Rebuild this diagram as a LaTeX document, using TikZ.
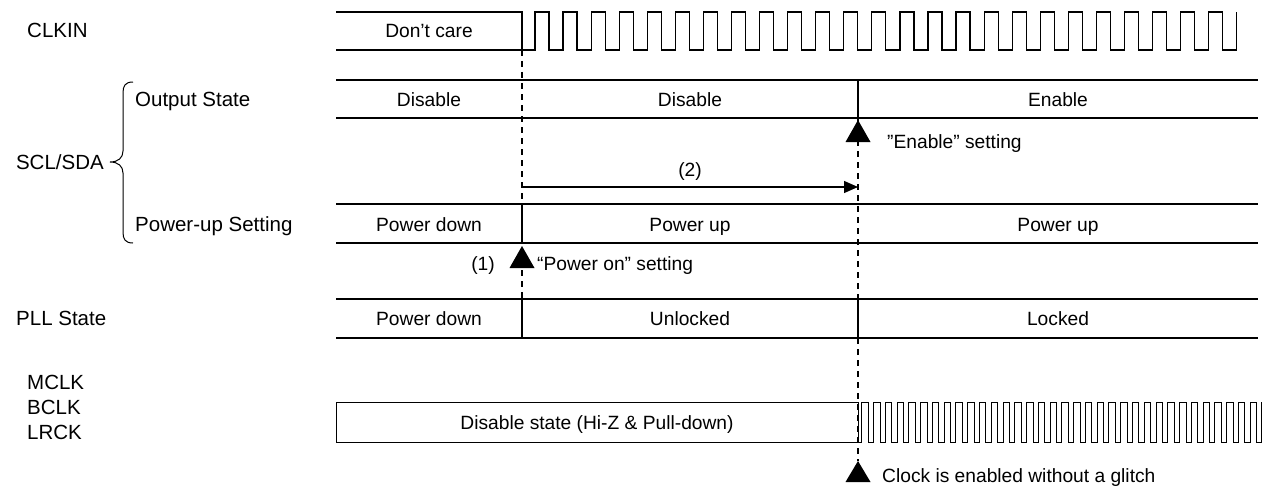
\documentclass[tikz,border=0pt]{standalone}
\usepackage{fontspec}
\setmainfont{Liberation Sans}
\usetikzlibrary{arrows.meta}
\begin{document}
\begin{tikzpicture}[x=1pt,y=-1pt,
  sig/.style={line width=1.2pt, line join=miter},
  fastclk/.style={line width=0.9pt, line join=miter},
  guide/.style={line width=1.1pt, dash pattern=on 6pt off 5pt},
  lbl/.style={font=\fontsize{20.5}{24}\selectfont, inner sep=0pt},
  txt/.style={font=\fontsize{19.2}{23}\selectfont, inner sep=0pt, anchor=base},
  flag/.style={fill=black}
]
\useasboundingbox (0,0) rectangle (1274,487);

% ---- signal names on the left (positions are baselines)
\node[lbl, anchor=base west] (nclkin) at (27,38) {CLKIN};
\node[lbl, anchor=base west] (nout) at (135,106) {Output State};
\node[lbl, anchor=base east] (nscl) at (104,169) {SCL/SDA};
\node[lbl, anchor=base west] (npwr) at (135,231) {Power-up Setting};
\node[lbl, anchor=base west] (npll) at (16,325) {PLL State};
\node[lbl, anchor=base west] (nmclk) at (27,389) {MCLK};
\node[lbl, anchor=base west] (nbclk) at (27,414) {BCLK};
\node[lbl, anchor=base west] (nlrck) at (27,439) {LRCK};

% brace grouping the two SCL/SDA rows
\draw[line width=1pt] (133,82) .. controls (125,82) and (123,86) .. (123,93)
  -- (123,151) .. controls (123,158) and (118,162) .. (110,162)
  .. controls (118,162) and (123,166) .. (123,173)
  -- (123,232) .. controls (123,239) and (125,243) .. (133,243);

% ---- dashed timing guides
\draw[guide] (522,50) -- (522,299);
\draw[guide] (858,118) -- (858,461);

% ---- CLKIN
\draw[sig] (336,12) -- (522,12) -- (522,50);
\draw[sig] (336,50) -- (535,50)
  \foreach \k in {1,...,25} { -- ++(0,-38) -- ++(14,0) -- ++(0,38) -- ++(14.07,0) }
  -- ++(0,-38);
\node[txt] (dc) at (429,38) {Don’t care};

% ---- Output State
\draw[sig] (336,80) -- (1258,80);
\draw[sig] (336,118) -- (1258,118);
\draw[sig] (858,80) -- (858,118);
\node[txt] (os1) at (429,106) {Disable};
\node[txt] (os2) at (690,106) {Disable};
\node[txt] (os3) at (1058,106) {Enable};

% ---- Power-up Setting
\draw[sig] (336,204) -- (1258,204);
\draw[sig] (336,243) -- (1258,243);
\draw[sig] (522,204) -- (522,243);
\node[txt] (pu1) at (429,231) {Power down};
\node[txt] (pu2) at (690,231) {Power up};
\node[txt] (pu3) at (1058,231) {Power up};

% ---- PLL State
\draw[sig] (336,299) -- (1258,299);
\draw[sig] (336,338) -- (1258,338);
\draw[sig] (522,299) -- (522,338);
\draw[sig] (858,299) -- (858,338);
\node[txt] (pl1) at (429,325) {Power down};
\node[txt] (pl2) at (690,325) {Unlocked};
\node[txt] (pl3) at (1058,325) {Locked};

% ---- MCLK / BCLK / LRCK
\draw[fastclk] (858,442) -- (336,442) -- (336,402) -- (858,402) -- (858,442) -- (861.7,442)
  \foreach \k in {1,...,34} { -- ++(0,-40) -- ++(6.5,0) -- ++(0,40) -- ++(5.27,0) }
  -- ++(0,-40);
\node[txt] (ds) at (597,429) {Disable state (Hi-Z \& Pull-down)};

% ---- event markers
\fill[flag] (858,120) -- (870.5,142) -- (845.5,142) -- cycle;
\node[txt, anchor=base west] (en) at (887,148) {”Enable” setting};

\fill[flag] (522,246) -- (534.5,268) -- (509.5,268) -- cycle;
\node[txt, anchor=base east] (m1) at (495,270) {(1)};
\node[txt, anchor=base west] (pon) at (537,270) {“Power on” setting};

\fill[flag] (858,461) -- (870.5,482) -- (845.5,482) -- cycle;
\node[txt, anchor=base west] (glitch) at (882,482) {Clock is enabled without a glitch};

% ---- interval (2)
\coordinate (p2s) at (522,187);
\coordinate (p2e) at (858,187);
\draw[sig, -{Triangle[length=14pt,width=12pt]}] (p2s) -- (p2e);
\node[txt] (m2) at (690,176) {(2)};
\end{tikzpicture}
\end{document}
